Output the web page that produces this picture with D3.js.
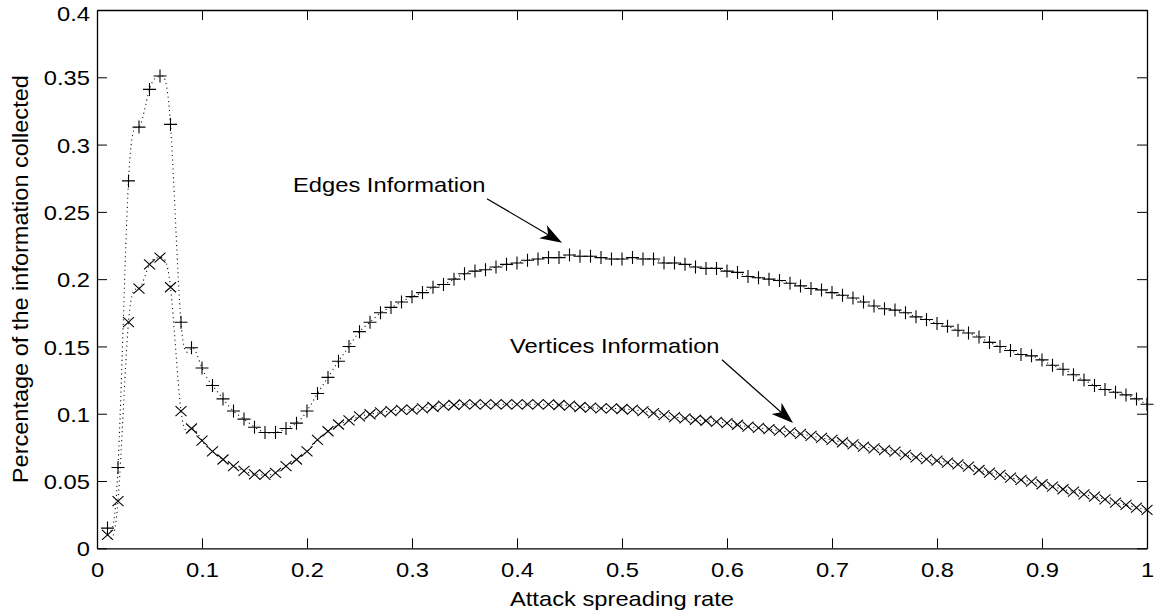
<!DOCTYPE html>
<html>
<head>
<meta charset="utf-8">
<script src="https://cdn.jsdelivr.net/npm/d3@7/dist/d3.min.js"></script>
<style>
  html, body { margin: 0; padding: 0; background: #fff; }
  svg { display: block; }
  text { font-family: "Liberation Sans", Arial, Helvetica, sans-serif; fill: #000; }
</style>
</head>
<body>
<svg id="chart" width="1156" height="615"></svg>
<script>
// ---------------- data ----------------
const rates = d3.range(1, 101).map(i => i / 100); // 0.01 .. 1.00 (sampling grid of the x axis)

const edgesInfo = [
  0.015, 0.060, 0.273, 0.313, 0.341, 0.351, 0.315, 0.168, 0.149, 0.134,
  0.121, 0.111, 0.102, 0.096, 0.090, 0.086, 0.086, 0.089, 0.093, 0.102,
  0.115, 0.127, 0.139, 0.150, 0.161, 0.168, 0.175, 0.179, 0.183, 0.187,
  0.190, 0.194, 0.196, 0.200, 0.204, 0.206, 0.207, 0.209, 0.211, 0.212,
  0.214, 0.215, 0.216, 0.216, 0.218, 0.217, 0.217, 0.216, 0.215, 0.215,
  0.216, 0.215, 0.215, 0.212, 0.212, 0.211, 0.209, 0.208, 0.208, 0.206,
  0.205, 0.202, 0.201, 0.200, 0.199, 0.197, 0.195, 0.193, 0.192, 0.190,
  0.188, 0.186, 0.183, 0.180, 0.178, 0.177, 0.175, 0.172, 0.170, 0.167,
  0.165, 0.162, 0.160, 0.157, 0.153, 0.150, 0.147, 0.144, 0.143, 0.140,
  0.136, 0.133, 0.129, 0.125, 0.121, 0.118, 0.116, 0.114, 0.111, 0.107
];

const verticesInfo = [
  0.010, 0.035, 0.168, 0.193, 0.211, 0.216, 0.194, 0.102, 0.089, 0.080,
  0.072, 0.066, 0.061, 0.0575, 0.055, 0.0545, 0.056, 0.061, 0.066, 0.072,
  0.0805, 0.087, 0.092, 0.095, 0.098, 0.0996, 0.101, 0.102, 0.1028, 0.103,
  0.104, 0.105, 0.106, 0.1065, 0.107, 0.107, 0.107, 0.107, 0.107, 0.107,
  0.107, 0.107, 0.107, 0.1065, 0.106, 0.105, 0.1045, 0.104, 0.104, 0.1035,
  0.103, 0.102, 0.1005, 0.099, 0.0975, 0.0965, 0.0955, 0.0948, 0.094, 0.093,
  0.0918, 0.0904, 0.0895, 0.0885, 0.0874, 0.0862, 0.085, 0.0835, 0.082, 0.0805,
  0.0788, 0.0772, 0.0755, 0.0742, 0.073, 0.0718, 0.0694, 0.0675, 0.0662, 0.0651,
  0.0637, 0.0624, 0.0607, 0.0582, 0.0562, 0.0545, 0.0525, 0.0508, 0.0495, 0.0476,
  0.0458, 0.0439, 0.0421, 0.0401, 0.0384, 0.0364, 0.0339, 0.0322, 0.0302, 0.0285
];

const xTickValues = [0, 0.1, 0.2, 0.3, 0.4, 0.5, 0.6, 0.7, 0.8, 0.9, 1];
const xTickLabels = ["0", "0.1", "0.2", "0.3", "0.4", "0.5", "0.6", "0.7", "0.8", "0.9", "1"];
const yTickValues = [0, 0.05, 0.1, 0.15, 0.2, 0.25, 0.3, 0.35, 0.4];
const yTickLabels = ["0", "0.05", "0.1", "0.15", "0.2", "0.25", "0.3", "0.35", "0.4"];

const xLabel = "Attack spreading rate";
const yLabel = "Percentage of the information collected";

// annotations in data units: text anchor, arrow tail, arrow tip
const annoLabels = ["Edges Information", "Vertices Information"];
const annoTextPos = [[0.1867, 0.2649], [0.3933, 0.1454]];
const annoArrowFrom = [[0.3714, 0.2597], [0.5952, 0.1401]];
const annoArrowTo = [[0.4429, 0.2270], [0.6629, 0.0932]];

// ---------------- layout ----------------
const svg = d3.select("#chart");
const L = 97, R = 1147, T = 10, B = 548.3;
const FS = 21, SX = 1.13;     // font size & horizontal stretch of glyphs

const x = d3.scaleLinear().domain([0, 1]).range([L, R]);
const y = d3.scaleLinear().domain([0, 0.4]).range([B, T]);

// ---------------- dotted spline lines ----------------
const line = d3.line()
  .x((d, i) => x(rates[i]))
  .y(d => y(d))
  .curve(d3.curveNatural);

[edgesInfo, verticesInfo].forEach(series => {
  svg.append("path")
    .attr("d", line(series))
    .attr("fill", "none")
    .attr("stroke", "#111")
    .attr("stroke-width", 1.1)
    .attr("stroke-dasharray", "1.1,3.4");
});

// ---------------- markers ----------------
const plusH = 6.5, plusV = 6.5, crossH = 5.5, crossV = 5;
svg.append("g").selectAll("path")
  .data(edgesInfo)
  .join("path")
  .attr("d", (d, i) => {
    const cx = x(rates[i]), cy = y(d);
    return `M${cx - plusH},${cy}H${cx + plusH}M${cx},${cy - plusV}V${cy + plusV}`;
  })
  .attr("stroke", "#000")
  .attr("stroke-width", 1.1)
  .attr("fill", "none");

svg.append("g").selectAll("path")
  .data(verticesInfo)
  .join("path")
  .attr("d", (d, i) => {
    const cx = x(rates[i]), cy = y(d);
    return `M${cx - crossH},${cy - crossV}L${cx + crossH},${cy + crossV}M${cx - crossH},${cy + crossV}L${cx + crossH},${cy - crossV}`;
  })
  .attr("stroke", "#000")
  .attr("stroke-width", 1.1)
  .attr("fill", "none");

// ---------------- axes (box with inward ticks) ----------------
const TICK = 10;
function styleAxis(g) {
  g.selectAll("path.domain").attr("stroke", "#000").attr("stroke-width", 1.3);
  g.selectAll(".tick line").attr("stroke", "#000").attr("stroke-width", 1);
  g.selectAll("text").attr("font-size", FS).attr("font-family", null).attr("fill", "#000");
}

const gx = svg.append("g").attr("transform", `translate(0,${B})`)
  .call(d3.axisBottom(x).tickValues(xTickValues)
    .tickFormat((d, i) => xTickLabels[i])
    .tickSizeInner(-TICK).tickSizeOuter(0).tickPadding(14));
styleAxis(gx);
gx.selectAll("text").attr("transform", `scale(${SX},1)`);

const gy = svg.append("g").attr("transform", `translate(${L},0)`)
  .call(d3.axisLeft(y).tickValues(yTickValues)
    .tickFormat((d, i) => yTickLabels[i])
    .tickSizeInner(-TICK).tickSizeOuter(0).tickPadding(7));
styleAxis(gy);
gy.selectAll("text")
  .attr("x", -7 / SX)
  .attr("dy", "0.36em")
  .attr("y", d => (d === 0.4 ? 3 : 0))
  .attr("transform", `scale(${SX},1)`);

const gt = svg.append("g").attr("transform", `translate(0,${T})`)
  .call(d3.axisTop(x).tickValues(xTickValues).tickFormat("")
    .tickSizeInner(-TICK).tickSizeOuter(0));
styleAxis(gt);

const gr = svg.append("g").attr("transform", `translate(${R},0)`)
  .call(d3.axisRight(y).tickValues(yTickValues).tickFormat("")
    .tickSizeInner(-TICK).tickSizeOuter(0));
styleAxis(gr);

// ---------------- axis titles ----------------
svg.append("text")
  .attr("transform", `translate(${(L + R) / 2},${606}) scale(${SX},1)`)
  .attr("text-anchor", "middle")
  .attr("font-size", FS)
  .text(xLabel);

svg.append("text")
  .attr("transform", `translate(${28},${(T + B) / 2}) rotate(-90) scale(1.07,1)`)
  .attr("text-anchor", "middle")
  .attr("font-size", 22)
  .text(yLabel);

// ---------------- annotations ----------------
annoLabels.forEach((lab, i) => {
  const [tx, ty] = annoTextPos[i];
  svg.append("text")
    .attr("transform", `translate(${x(tx)},${y(ty)}) scale(${SX},1)`)
    .attr("font-size", FS)
    .text(lab);

  const x1 = x(annoArrowFrom[i][0]), y1 = y(annoArrowFrom[i][1]);
  const x2 = x(annoArrowTo[i][0]), y2 = y(annoArrowTo[i][1]);
  const ang = Math.atan2(y2 - y1, x2 - x1);
  const headLen = 22, headW = 7.5, notch = 6;
  const ux = Math.cos(ang), uy = Math.sin(ang);
  const bx = x2 - ux * headLen, by = y2 - uy * headLen;
  const nx = x2 - ux * (headLen - notch), ny = y2 - uy * (headLen - notch);
  svg.append("line")
    .attr("x1", x1).attr("y1", y1)
    .attr("x2", nx).attr("y2", ny)
    .attr("stroke", "#000").attr("stroke-width", 1.2);
  svg.append("path")
    .attr("d", `M${x2},${y2}L${bx - uy * headW},${by + ux * headW}L${nx},${ny}L${bx + uy * headW},${by - ux * headW}Z`)
    .attr("fill", "#000");
});
</script>
</body>
</html>
